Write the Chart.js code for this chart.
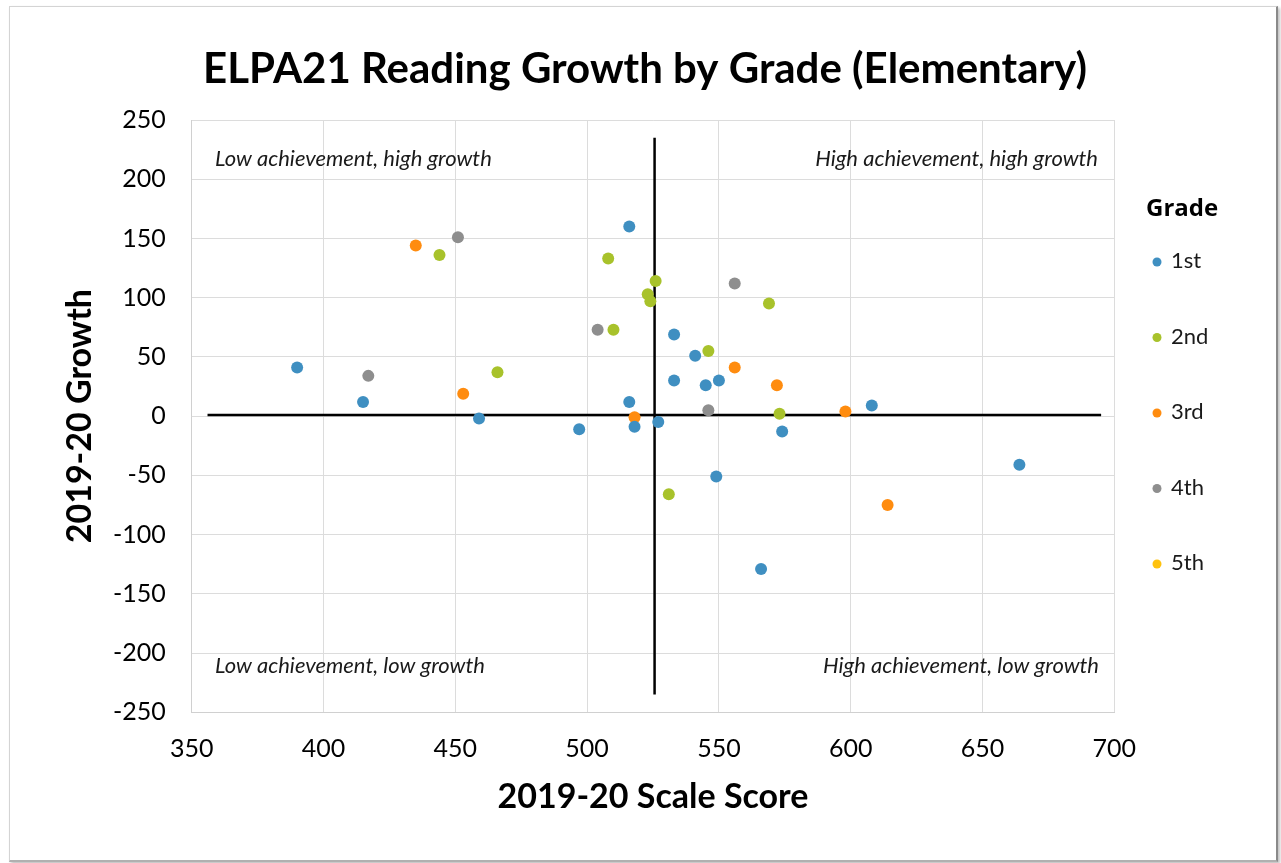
<!DOCTYPE html>
<html>
<head>
<meta charset="utf-8">
<script src="https://cdn.jsdelivr.net/npm/chart.js@4"></script>
<style>
  html, body { margin: 0; padding: 0; background: #ffffff; }
  #wrap { position: absolute; left: 0; top: 0; width: 1281px; height: 863px; }
  #card { position: absolute; left: 9px; top: 6px; width: 1266px; height: 853px;
          border: 1px solid #d4d4d4; border-right: 2px solid #8a8a8a; border-bottom: 2px solid #b0b0b0;
          box-shadow: 2px 2px 3px rgba(0,0,0,0.25); background: #fff; }
  canvas { position: absolute; left: 0; top: 0; }
</style>
</head>
<body>
<div id="wrap">
  <div id="card"></div>
  <canvas id="c" width="1281" height="863"></canvas>
</div>
<script>
const chartTitle = 'ELPA21 Reading Growth by Grade (Elementary)';
const xTitle = '2019-20 Scale Score';
const yTitle = '2019-20 Growth';
const legendTitle = 'Grade';
const gradeNames = ['1st', '2nd', '3rd', '4th', '5th'];
const gradeColors = ['#3f8fc1', '#a8c22b', '#ff8c0f', '#8e8e8e', '#ffc20e'];

const grade1 = [
  {x: 516, y: 160}, {x: 390, y: 41}, {x: 415, y: 12}, {x: 516, y: 12},
  {x: 459, y: -2}, {x: 497, y: -11}, {x: 518, y: -9}, {x: 533, y: 69},
  {x: 541, y: 51}, {x: 533, y: 30}, {x: 545, y: 26}, {x: 550, y: 30},
  {x: 608, y: 9}, {x: 527, y: -5}, {x: 574, y: -13}, {x: 664, y: -41},
  {x: 549, y: -51}, {x: 566, y: -129}
];
const grade2 = [
  {x: 444, y: 136}, {x: 508, y: 133}, {x: 526, y: 114}, {x: 523, y: 103},
  {x: 524, y: 97}, {x: 510, y: 73}, {x: 466, y: 37}, {x: 569, y: 95},
  {x: 546, y: 55}, {x: 573, y: 2}, {x: 531, y: -66}
];
const grade3 = [
  {x: 435, y: 144}, {x: 453, y: 19}, {x: 518, y: -1}, {x: 556, y: 41},
  {x: 572, y: 26}, {x: 598, y: 4}, {x: 614, y: -75}
];
const grade4 = [
  {x: 451, y: 151}, {x: 504, y: 73}, {x: 417, y: 34}, {x: 556, y: 112},
  {x: 546, y: 5}
];
const grade5 = [];

const hLine = [{x: 356, y: 1}, {x: 695, y: 1}];
const vLine = [{x: 525.6, y: 235}, {x: 525.6, y: -235}];

const quadrantLabels = [
  {text: 'Low achievement, high growth', x: 215, y: 159, align: 'left'},
  {text: 'High achievement, high growth', x: 1098, y: 159, align: 'right'},
  {text: 'Low achievement, low growth', x: 215, y: 666, align: 'left'},
  {text: 'High achievement, low growth', x: 1099, y: 666, align: 'right'}
];

const FONT = "'Lato', 'Open Sans', sans-serif";
const series = [grade1, grade2, grade3, grade4, grade5];

const datasets = [
  {type: 'line', label: 'h', data: hLine, borderColor: '#000', borderWidth: 2.5, pointRadius: 0, showLine: true, order: 10},
  {type: 'line', label: 'v', data: vLine, borderColor: '#000', borderWidth: 2.5, pointRadius: 0, showLine: true, order: 10}
];
series.forEach((d, i) => {
  datasets.push({
    label: gradeNames[i], data: d, backgroundColor: gradeColors[i], borderColor: gradeColors[i],
    pointRadius: 6, pointBorderWidth: 0, order: 1
  });
});

const overlay = {
  id: 'overlay',
  afterDraw(chart) {
    const ctx = chart.ctx;
    ctx.save();
    ctx.fillStyle = '#000';
    ctx.textAlign = 'center';
    ctx.textBaseline = 'middle';
    ctx.font = "bold 42px " + FONT;
    ctx.fillText(chartTitle, 645, 69);
    ctx.font = "italic 22px " + FONT;
    ctx.fillStyle = '#1a1a1a';
    quadrantLabels.forEach(q => {
      ctx.textAlign = q.align;
      ctx.fillText(q.text, q.x, q.y);
    });
    ctx.textAlign = 'left';
    ctx.fillStyle = '#000';
    ctx.font = "bold 24px 'Open Sans', sans-serif";
    ctx.fillText(legendTitle, 1146, 209);
    ctx.font = "22px " + FONT;
    gradeNames.forEach((g, i) => {
      const y = 261 + i * 75.5;
      ctx.beginPath();
      ctx.fillStyle = gradeColors[i];
      ctx.arc(1157, y + 1, 4.5, 0, Math.PI * 2);
      ctx.fill();
      ctx.fillStyle = '#1a1a1a';
      ctx.fillText(g, 1171, y);
    });
    ctx.restore();
  }
};

new Chart(document.getElementById('c'), {
  type: 'scatter',
  data: {datasets},
  options: {
    responsive: false,
    animation: false,
    layout: {padding: {left: 0, top: 120, right: 166.7, bottom: 0}},
    plugins: {legend: {display: false}, title: {display: false}, tooltip: {enabled: false}},
    scales: {
      x: {
        type: 'linear', min: 350, max: 700,
        ticks: {stepSize: 50, padding: 22, color: '#000', font: {family: FONT, size: 25}},
        grid: {color: '#dcdcdc', lineWidth: 1, drawTicks: false},
        border: {color: '#d0d0d0'},
        title: {display: true, text: xTitle, color: '#000', padding: {bottom: 46, top: 0}, font: {family: FONT, size: 34, weight: 'bold'}},
        afterFit(scale) { scale.height = 150.7; }
      },
      y: {
        type: 'linear', min: -250, max: 250,
        ticks: {stepSize: 50, padding: 26, color: '#000', font: {family: FONT, size: 25}},
        grid: {color: '#dcdcdc', lineWidth: 1, drawTicks: false},
        border: {color: '#d0d0d0'},
        title: {display: true, text: yTitle, color: '#000', padding: {top: 60, bottom: 0}, font: {family: FONT, size: 34, weight: 'bold'}},
        afterFit(scale) { scale.width = 191.7; }
      }
    }
  },
  plugins: [overlay]
});
</script>
</body>
</html>
